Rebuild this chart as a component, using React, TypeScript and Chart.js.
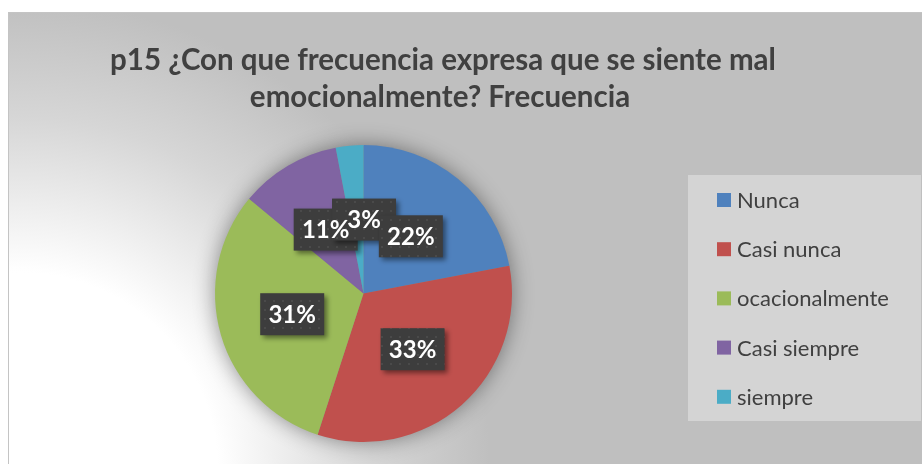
import React, { useEffect, useRef } from "react";
import { Chart, registerables } from "chart.js";

Chart.register(...registerables);

const TITLE_LINES = [
  "p15 ¿Con que frecuencia expresa que se siente mal",
  "emocionalmente? Frecuencia",
];
const categories = ["Nunca", "Casi nunca", "ocacionalmente", "Casi siempre", "siempre"];
const values = [22, 33, 31, 11, 3];
const colors = ["#4f81bd", "#c0504d", "#9bbb59", "#8064a2", "#4bacc6"];

const W = 922;
const H = 464;
const FONT = "Lato, 'Open Sans', 'Liberation Sans', sans-serif";

function makePattern(ctx: CanvasRenderingContext2D) {
  const c = document.createElement("canvas");
  c.width = 9;
  c.height = 9;
  const p = c.getContext("2d")!;
  p.fillStyle = "#3d3d3d";
  p.fillRect(0, 0, 9, 9);
  p.fillStyle = "#4a4a4a";
  p.fillRect(3, 3, 2, 2);
  return ctx.createPattern(c, "repeat");
}

const bgPlugin = {
  id: "bgPlugin",
  beforeDraw(chart: any) {
    const ctx = chart.ctx as CanvasRenderingContext2D;
    ctx.save();
    ctx.fillStyle = "#ffffff";
    ctx.fillRect(0, 0, W, H);
    const g = ctx.createRadialGradient(20, 470, 0, 20, 470, 470);
    g.addColorStop(0, "#ffffff");
    g.addColorStop(0.42, "#ffffff");
    g.addColorStop(0.75, "#d6d6d6");
    g.addColorStop(1, "#bfbfbf");
    ctx.fillStyle = g;
    ctx.fillRect(8, 12, W - 8, H - 12);
    ctx.strokeStyle = "#c4c4c4";
    ctx.lineWidth = 1;
    ctx.beginPath();
    ctx.moveTo(8.5, H);
    ctx.lineTo(8.5, 12.5);
    ctx.lineTo(W, 12.5);
    ctx.stroke();

    // title
    ctx.fillStyle = "#404040";
    ctx.font = `bold 29.5px ${FONT}`;
    ctx.textAlign = "center";
    ctx.textBaseline = "middle";
    ctx.fillText(TITLE_LINES[0], 443, 60);
    ctx.fillText(TITLE_LINES[1], 440, 97);

    // legend
    ctx.fillStyle = "#d4d4d4";
    ctx.fillRect(688, 175, 233, 246);
    ctx.font = `22px ${FONT}`;
    ctx.textAlign = "left";
    ctx.textBaseline = "middle";
    categories.forEach((c, i) => {
      const cy = 200 + i * 49.2;
      ctx.fillStyle = colors[i];
      ctx.fillRect(717, cy - 7, 14, 14);
      ctx.fillStyle = "#404040";
      ctx.fillText(c, 737, cy + 1);
    });
    ctx.restore();
  },
  beforeDatasetsDraw(chart: any) {
    const meta = chart.getDatasetMeta(0);
    const a = meta.data[0];
    if (!a) return;
    const { x, y, outerRadius } = a.getProps(["x", "y", "outerRadius"], true);
    const ctx = chart.ctx as CanvasRenderingContext2D;
    ctx.save();
    ctx.shadowColor = "rgba(0,0,0,0.45)";
    ctx.shadowBlur = 22;
    ctx.fillStyle = "#888888";
    ctx.beginPath();
    ctx.arc(x, y, outerRadius - 1, 0, Math.PI * 2);
    ctx.fill();
    ctx.restore();
  },
  afterDatasetsDraw(chart: any) {
    const ctx = chart.ctx as CanvasRenderingContext2D;
    const meta = chart.getDatasetMeta(0);
    const total = values.reduce((s, v) => s + v, 0);
    const pattern = makePattern(ctx);
    // small best-fit nudge for the tiny last slice label (style only)
    const nudgeX = (i: number) => (i === values.length - 1 ? 7.5 : 0);
    const items = meta.data.map((arc: any, i: number) => {
      const { x, y, startAngle, endAngle, outerRadius } = arc.getProps(
        ["x", "y", "startAngle", "endAngle", "outerRadius"],
        true
      );
      const mid = (startAngle + endAngle) / 2;
      const px = x + Math.cos(mid) * outerRadius * 0.5 + nudgeX(i);
      const py = y + Math.sin(mid) * outerRadius * 0.5;
      const txt = Math.round((values[i] / total) * 100) + "%";
      return { px, py, txt };
    });
    const order = [2, 3, 4, 0, 1];
    ctx.save();
    ctx.font = `bold 24px ${FONT}`;
    order.forEach((k) => {
      const { px, py } = items[k];
      const bw = 64;
      const bh = 42;
      ctx.save();
      ctx.shadowColor = "rgba(0,0,0,0.45)";
      ctx.shadowBlur = 5;
      ctx.shadowOffsetX = 3;
      ctx.shadowOffsetY = 3;
      ctx.fillStyle = pattern || "#3d3d3d";
      ctx.fillRect(px - bw / 2, py - bh / 2, bw, bh);
      ctx.restore();
    });
    ctx.fillStyle = "#ffffff";
    ctx.textAlign = "center";
    ctx.textBaseline = "middle";
    items.forEach(({ px, py, txt }: any) => {
      ctx.fillText(txt, px, py + 1);
    });
    ctx.restore();
  },
};

export default function App() {
  const ref = useRef<HTMLCanvasElement>(null);
  useEffect(() => {
    document.body.style.margin = "0";
    const canvas = ref.current!;
    const chart = new Chart(canvas, {
      type: "pie",
      data: {
        labels: categories,
        datasets: [
          {
            data: values,
            backgroundColor: colors,
            borderWidth: 0,
          },
        ],
      },
      options: {
        responsive: false,
        animation: false,
        layout: { padding: { left: 215, right: 410, top: 145, bottom: 22 } },
        plugins: {
          legend: { display: false },
          title: { display: false },
          tooltip: { enabled: false },
        },
      },
      plugins: [bgPlugin],
    });
    return () => chart.destroy();
  }, []);
  return (
    <canvas
      ref={ref}
      width={W}
      height={H}
      style={{ display: "block", width: W, height: H }}
    />
  );
}
